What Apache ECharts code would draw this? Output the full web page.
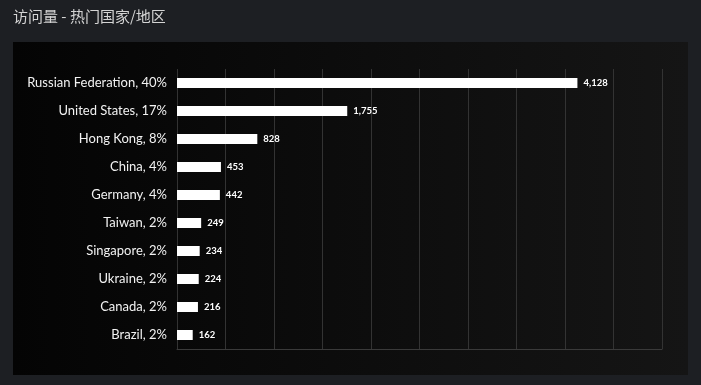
<!DOCTYPE html>
<html>
<head>
<meta charset="utf-8">
<script src="https://cdn.jsdelivr.net/npm/echarts@6/dist/echarts.min.js"></script>
<style>
  html, body { margin: 0; padding: 0; background: #1d1f23; }
  #main { width: 701px; height: 385px; }
</style>
</head>
<body>
<div id="main"></div>
<script>
// 热门国家/地区 访问量
const countries = ['Russian Federation', 'United States', 'Hong Kong', 'China', 'Germany',
  'Taiwan', 'Singapore', 'Ukraine', 'Canada', 'Brazil']
const percents = [40, 17, 8, 4, 4, 2, 2, 2, 2, 2]
const visits = [4128, 1755, 828, 453, 442, 249, 234, 224, 216, 162]

const labels = countries.map((c, i) => c + ', ' + percents[i] + '%')

const chart = echarts.init(document.getElementById('main'))
const option = {
  backgroundColor: '#1d1f23',
  title: {
    text: '访问量 - 热门国家/地区',
    left: 8,
    top: 4,
    textStyle: {
      color: '#d4d4d4',
      fontSize: 15,
      fontWeight: 'normal',
      fontFamily: 'Noto Sans CJK SC'
    }
  },
  graphic: [
    {
      type: 'rect',
      z: -10,
      shape: { x: 13, y: 42, width: 675, height: 333 },
      style: {
        fill: new echarts.graphic.LinearGradient(0, 0, 1, 0, [
          { offset: 0, color: '#040404' },
          { offset: 1, color: '#151515' }
        ])
      }
    }
  ],
  grid: {
    left: 177,
    right: 39,
    top: 69,
    bottom: 36
  },
  xAxis: {
    type: 'value',
    min: 0,
    max: 5000,
    interval: 500,
    axisLabel: { show: false },
    axisTick: { show: false },
    axisLine: { show: true, lineStyle: { color: '#3a3a3a' } },
    splitLine: { show: true, lineStyle: { color: '#333333' } }
  },
  yAxis: {
    type: 'category',
    inverse: true,
    data: labels,
    axisLine: { show: false },
    axisTick: { show: false },
    axisLabel: {
      color: '#f2f2f2',
      fontSize: 13,
      margin: 10,
      fontFamily: 'Lato'
    }
  },
  series: [
    {
      type: 'bar',
      data: visits,
      barWidth: 10,
      itemStyle: { color: '#ffffff' },
      label: {
        show: true,
        position: 'right',
        distance: 6,
        color: '#ffffff',
        fontSize: 9.5,
        fontWeight: 'bold',
        fontFamily: 'Lato',
        formatter: p => p.value.toLocaleString('en-US')
      }
    }
  ]
}
option && chart.setOption(option)
</script>
</body>
</html>
